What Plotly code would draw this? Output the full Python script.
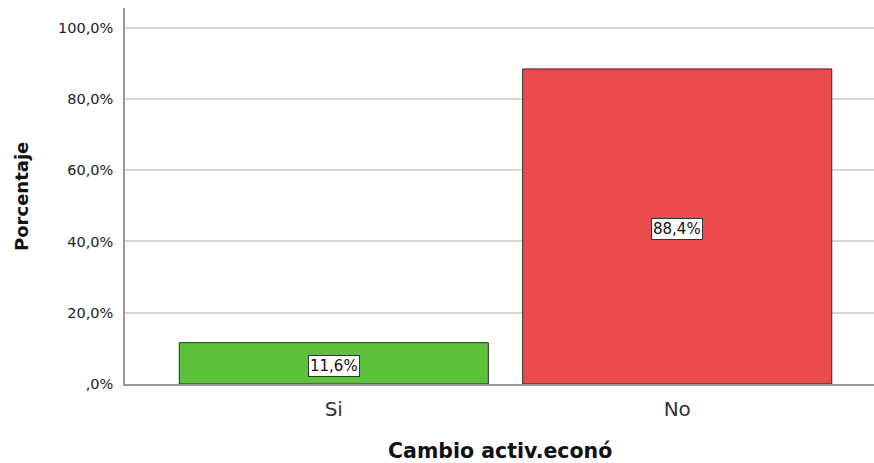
import plotly.graph_objects as go

# Share of respondents by change of economic activity
categories = ["Si", "No"]
percentages = [11.6, 88.4]
bar_colors = ["#5CC13B", "#EB4B4C"]

y_tick_values = [0, 20, 40, 60, 80, 100]
y_tick_labels = [",0%", "20,0%", "40,0%", "60,0%", "80,0%", "100,0%"]

x_positions = list(range(len(categories)))
FONT = "DejaVu Sans, Arial, sans-serif"

fig = go.Figure()
fig.add_trace(go.Bar(
    x=x_positions,
    y=percentages,
    width=0.9,
    marker=dict(color=bar_colors, line=dict(color="#2b2b2b", width=1)),
    hoverinfo="skip",
))

# Value labels in small boxed tags at each bar's mid-height
for xp, val in zip(x_positions, percentages):
    fig.add_annotation(
        x=xp, y=val / 2, yshift=-3,
        text=f"{val:.1f}%".replace(".", ","),
        showarrow=False,
        font=dict(family=FONT, size=15, color="#111"),
        bgcolor="white", bordercolor="#333", borderwidth=1, borderpad=1,
    )

# Axis titles
fig.add_annotation(
    xref="paper", yref="paper", x=0.5, y=-0.178,
    xanchor="center", yanchor="middle",
    text="<b>Cambio activ.econó</b>", showarrow=False,
    font=dict(family=FONT, size=20.5, color="#111"),
)
fig.add_annotation(
    xref="paper", yref="paper", x=-0.1389, y=0.5,
    xanchor="center", yanchor="middle", textangle=-90,
    text="<b>Porcentaje</b>", showarrow=False,
    font=dict(family=FONT, size=18, color="#111"),
)

fig.update_layout(
    width=874, height=463,
    margin=dict(l=125, r=0, t=8, b=79),
    plot_bgcolor="white", paper_bgcolor="white",
    showlegend=False,
    font=dict(family=FONT),
)

fig.update_xaxes(
    range=[-0.608, 1.573],
    tickvals=x_positions, ticktext=categories,
    tickfont=dict(family=FONT, size=20, color="#333"),
    ticks="", ticklabelstandoff=6,
    showgrid=False, zeroline=False,
    showline=True, linecolor="#999", linewidth=1.5,
)

fig.update_yaxes(
    range=[0, 105.5],
    tickvals=y_tick_values, ticktext=y_tick_labels,
    tickfont=dict(family=FONT, size=14.5, color="#222"),
    ticks="", ticklabelstandoff=7,
    showgrid=True, gridcolor="#d6d6d6", gridwidth=1.5,
    zeroline=False,
    showline=True, linecolor="#999", linewidth=1.5,
)

fig.write_html("out.html")
